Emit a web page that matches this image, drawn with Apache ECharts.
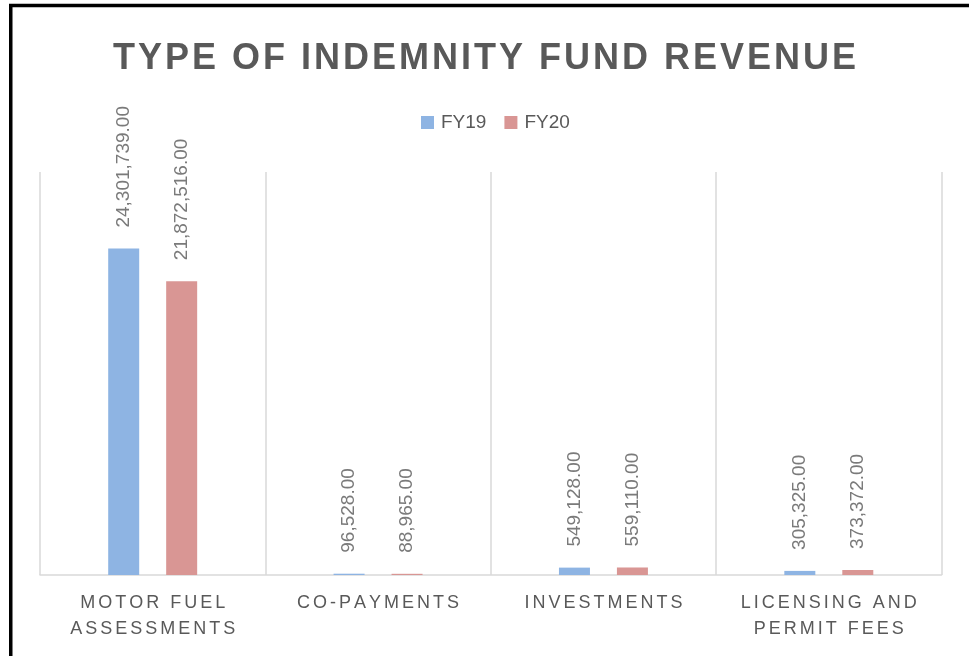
<!DOCTYPE html>
<html>
<head>
<meta charset="utf-8">
<title>Type of Indemnity Fund Revenue</title>
<script src="https://cdn.jsdelivr.net/npm/echarts@6/dist/echarts.min.js"></script>
<style>
  html, body { margin: 0; padding: 0; background: #fff; }
  #chart { width: 969px; height: 656px; }
</style>
</head>
<body>
<div id="chart"></div>
<script>
// data
var categories = ['MOTOR FUEL\nASSESSMENTS', 'CO-PAYMENTS', 'INVESTMENTS', 'LICENSING AND\nPERMIT FEES'];
var fy19 = [24301739, 96528, 549128, 305325];
var fy20 = [21872516, 88965, 559110, 373372];
var seriesNames = ['FY19', 'FY20'];

// fake letter spacing: put hair spaces between the characters
function spaced(s, n) {
  var gap = new Array((n || 1) + 1).join('\u200A');
  return s.split('\n').map(function (line) { return line.split('').join(gap); }).join('\n');
}

var fmt = new Intl.NumberFormat('en-US', { minimumFractionDigits: 2, maximumFractionDigits: 2 });

var labelStyle = {
  show: true,
  position: 'top',
  rotate: 90,
  align: 'left',
  verticalAlign: 'middle',
  distance: 21,
  color: '#7a7a7a',
  fontSize: 19,
  fontFamily: 'Liberation Sans',
  formatter: function (p) { return fmt.format(p.value); }
};

var myChart = echarts.init(document.getElementById('chart'));
var option = {
  backgroundColor: '#fff',
  animation: false,
  title: {
    text: spaced('TYPE OF INDEMNITY FUND REVENUE', 1),
    left: 'center',
    top: 36,
    textStyle: { color: '#595959', fontSize: 36, fontWeight: 'bold', fontFamily: 'Liberation Sans' }
  },
  legend: {
    data: seriesNames,
    top: 108,
    left: 416,
    icon: 'rect',
    itemWidth: 13,
    itemHeight: 13,
    itemGap: 18,
    textStyle: { color: '#595959', fontSize: 19, fontFamily: 'Liberation Sans', padding: [0, 0, 0, 2] }
  },
  grid: { left: 40, right: 27.5, top: 172, bottom: 81 },
  xAxis: {
    type: 'category',
    data: categories,
    axisLine: { lineStyle: { color: '#d9d9d9', width: 1.5 } },
    axisTick: { show: false },
    splitLine: { show: true, lineStyle: { color: '#d9d9d9', width: 1.5 } },
    axisLabel: {
      interval: 0,
      margin: 15,
      color: '#595959',
      fontSize: 18,
      lineHeight: 26,
      fontFamily: 'Liberation Sans',
      formatter: function (v) { return spaced(v, 2); }
    }
  },
  yAxis: {
    type: 'value',
    min: 0,
    max: 30000000,
    show: false,
    splitLine: { show: false }
  },
  series: [
    {
      name: seriesNames[0],
      type: 'bar',
      data: fy19,
      barWidth: 31,
      barGap: '87%',
      itemStyle: { color: '#8eb4e3' },
      label: labelStyle
    },
    {
      name: seriesNames[1],
      type: 'bar',
      data: fy20,
      barWidth: 31,
      itemStyle: { color: '#d99694' },
      label: labelStyle
    }
  ],
  // outer frame of the picture (left and top edges show)
  graphic: [
    { type: 'rect', silent: true, shape: { x: 10.75, y: 5.5, width: 1000, height: 700 },
      style: { fill: 'none', stroke: '#000', lineWidth: 3.5 } }
  ]
};
myChart.setOption(option);
</script>
</body>
</html>
